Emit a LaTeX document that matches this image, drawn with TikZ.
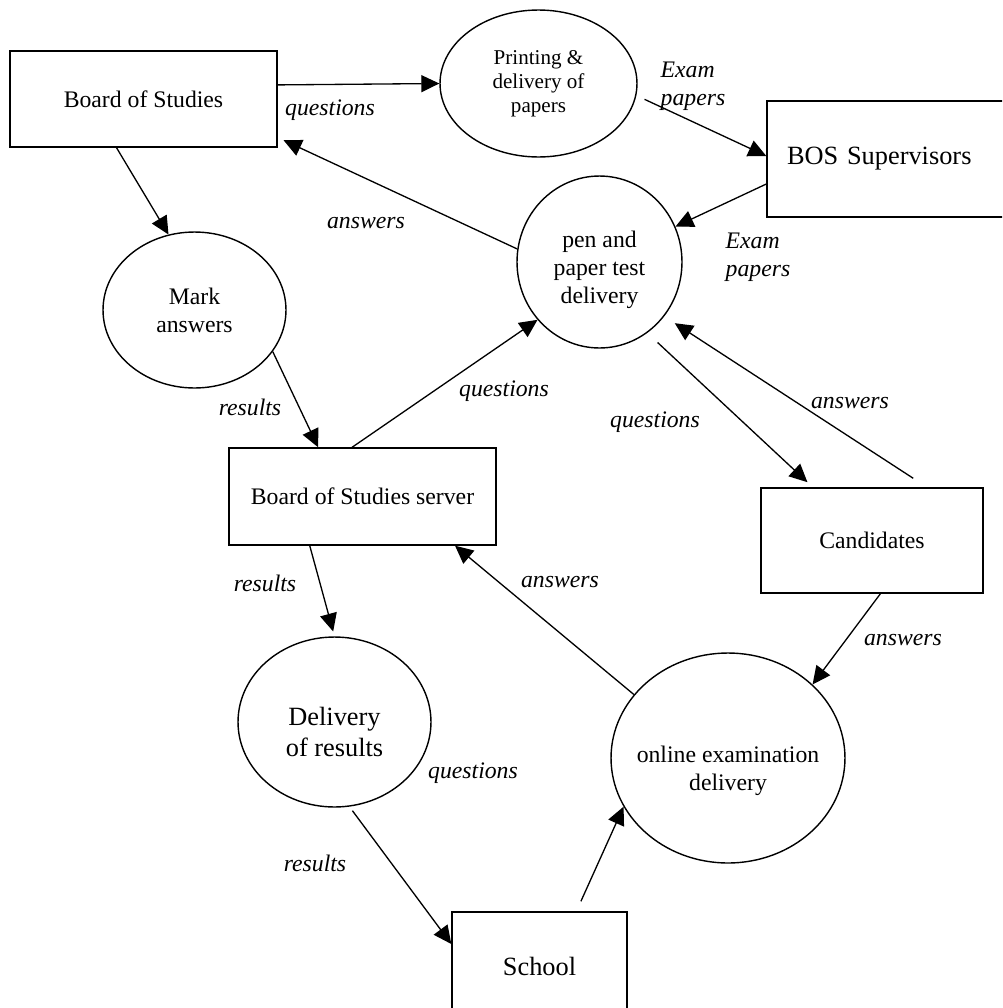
\documentclass[tikz,border=0pt]{standalone}
\usepackage{fontspec}
\setmainfont{Liberation Serif}
\usetikzlibrary{positioning,shapes,arrows.meta}
\tikzset{
boxnode/.style={rectangle, draw=black, line width=0.8pt, inner sep=0pt},
procnode/.style={ellipse, draw=black, line width=0.8pt, inner sep=0pt},
flowlabel/.style={font=\fontsize{13.5}{15.9}\selectfont\itshape},
bigtext/.style={font=\fontsize{15}{17.6}\selectfont},
smalltext/.style={font=\fontsize{12}{13.8}\selectfont},
>={Triangle[width=3.4mm,length=3.6mm]}
}
\begin{document}
\begin{tikzpicture}[x=0.02cm, y=-0.02cm, align=center, line width=0.75pt,
  font=\fontsize{13.5}{15.9}\selectfont]
\useasboundingbox (0,0) rectangle (1002,1008);
\clip (0,0) rectangle (1002,1008);

%Entities and processes
\node[boxnode, minimum width=5.34cm, minimum height=1.92cm] (bos) at (143.5,99) {Board of Studies};
\node[procnode, smalltext, minimum width=3.94cm, minimum height=2.94cm] (printing) at (538.5,83.5) {Printing \&\\delivery of\\papers};
\node[boxnode, bigtext, minimum height=2.32cm, text width=4.6cm, inner xsep=0.4cm, align=left] (supervisors) at (902,159) {BOS Supervisors};
\node[procnode, minimum width=3.3cm, minimum height=3.44cm] (penPaper) at (599.5,262) {\rule{0pt}{18.5pt}pen and\\paper test\\delivery};
\node[procnode, minimum width=3.66cm, minimum height=3.12cm] (markAns) at (194.5,310) {Mark\\answers};
\node[boxnode, minimum width=5.34cm, minimum height=1.94cm] (bosServer) at (362.5,496.5) {Board of Studies server};
\node[boxnode, minimum width=4.44cm, minimum height=2.1cm] (candidates) at (872,540.5) {Candidates};
\node[procnode, bigtext, minimum width=3.86cm, minimum height=3.4cm] (resDelivery) at (334.5,722) {\rule{0pt}{22pt}Delivery\\of results};
\node[procnode, minimum width=4.68cm, minimum height=4.2cm, inner xsep=-0.2cm] (onlineExam) at (728,758) {\rule{0pt}{24pt}online examination\\delivery};
\node[boxnode, bigtext, minimum width=3.5cm, minimum height=2.16cm] (school) at (539.5,966) {School};

%Flow labels
\node[flowlabel] (qBos) at (330,110) {questions};
\node[flowlabel, align=left] (examTop) at (693,86) {Exam\\papers};
\node[flowlabel, align=left] (examLow) at (758,257) {Exam\\papers};
\node[flowlabel] (aBos) at (366,223) {answers};
\node[flowlabel] (rMark) at (250,407) {results};
\node[flowlabel] (qServer) at (504,391) {questions};
\node[flowlabel] (qCand) at (655,422) {questions};
\node[flowlabel] (aCand) at (850,403) {answers};
\node[flowlabel] (aOnline) at (903,640) {answers};
\node[flowlabel] (aServer) at (560,582) {answers};
\node[flowlabel] (rServer) at (265,583) {results};
\node[flowlabel] (rSchool) at (315,863) {results};
\node[flowlabel] (qSchool) at (473,773) {questions};

%Flows
\draw[->] (bos.6) -- (printing.180);
\draw[->, shorten <=0.18cm] (printing.-7) -- (supervisors.west |- 0,156);
\draw[->] (supervisors.west |- 0,184) -- (penPaper.25);
\draw[->, shorten >=0.13cm] (penPaper.171) -- (bos.-16);
\draw[->] (bos.-119) -- (markAns.109);
\draw[->] (markAns.-28) -- (bosServer.132);
\draw[->] (bosServer.102) -- (penPaper.-137);
\draw[->, shorten <=0.28cm, shorten >=0.15cm] (penPaper.-56) -- (candidates.138);
\draw[->, shorten <=0.33cm, shorten >=0.25cm] (candidates.44) -- (penPaper.-40);
\draw[->] (candidates.-81) -- (onlineExam.41);
\draw[->] (onlineExam.146) -- (bosServer.-28);
\draw[->, shorten >=0.1cm] (bosServer.-137) -- (resDelivery.90);
\draw[->, shorten <=0.1cm] (resDelivery.-80) -- (school.166);
\draw[->, shorten <=0.22cm] (school.56) -- (onlineExam.205);

\end{tikzpicture}
\end{document}
